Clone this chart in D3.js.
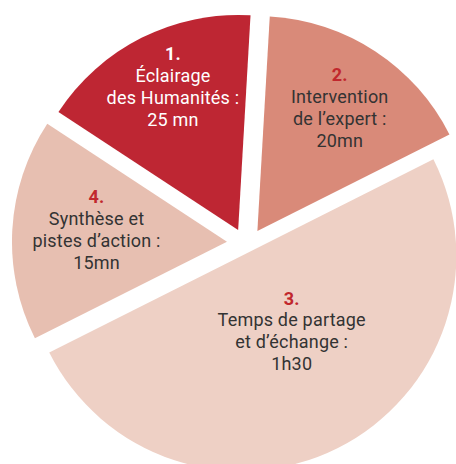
<!DOCTYPE html>
<html>
<head>
<meta charset="utf-8">
<script src="https://cdn.jsdelivr.net/npm/d3@7"></script>
<style>
  body { margin: 0; background: #fff; }
  svg { display: block; }
  text { font-family: Roboto, "DejaVu Sans", sans-serif; }
</style>
</head>
<body>
<svg width="456" height="464"></svg>
<script>
// Data
const steps = ["1.", "2.", "3.", "4."];
const stepLabels = [
  ["Éclairage", "des Humanités :", "25 mn"],
  ["Intervention", "de l’expert :", "20mn"],
  ["Temps de partage", "et d’échange :", "1h30"],
  ["Synthèse et", "pistes d’action :", "15mn"]
];
// share of the circle as drawn (degrees)
const shares = [60, 60, 180, 60];

const fills = ["#be2633", "#d98a79", "#eed0c5", "#e7bfb1"];
const textFill = ["#ffffff", "#333333", "#333333", "#333333"];
const numFill = ["#ffffff", "#c1272d", "#c1272d", "#c1272d"];

var svg = d3.select("svg");
var center = [243.4, 246.1],
    radius = 215,
    rad = Math.PI / 180;

// how far each slice is pulled out of the pie: [distance, direction in degrees]
var pull = [[17, -18], [20.5, 43], [10, 192], [17, 285]];
// where each text block starts, relative to its slice: [radius, angle]
var labelAt = [[182, -21], [171, 28.8], [70, 134], [136, 286.4]];

var pie = d3.pie()
    .sort(null)
    .startAngle(-56.7 * rad)
    .endAngle((360 - 56.7) * rad);

var arc = d3.arc()
    .innerRadius(0)
    .outerRadius(radius);

var arcs = pie(shares);

var slices = svg.append("g")
    .attr("transform", "translate(" + center + ")")
    .selectAll("g")
    .data(arcs)
    .enter().append("g")
      .attr("transform", function(d, i) {
        var p = d3.pointRadial(pull[i][1] * rad, pull[i][0]);
        return "translate(" + p + ")";
      });

slices.append("path")
    .attr("fill", function(d, i) { return fills[i]; })
    .attr("d", arc);

var labels = slices.append("text")
    .attr("text-anchor", "middle")
    .attr("font-size", 18)
    .attr("letter-spacing", 0.2)
    .attr("transform", function(d, i) {
      var p = d3.pointRadial(labelAt[i][1] * rad, labelAt[i][0]);
      return "translate(" + p + ")";
    });

labels.append("tspan")
    .attr("x", 0)
    .attr("y", 0)
    .attr("font-weight", 700)
    .attr("fill", function(d, i) { return numFill[i]; })
    .text(function(d, i) { return steps[i]; });

labels.each(function(d, i) {
  var t = d3.select(this);
  stepLabels[i].forEach(function(line, j) {
    t.append("tspan")
      .attr("x", 0)
      .attr("y", (j + 1) * 21.9)
      .attr("fill", textFill[i])
      .text(line);
  });
});
</script>
</body>
</html>
